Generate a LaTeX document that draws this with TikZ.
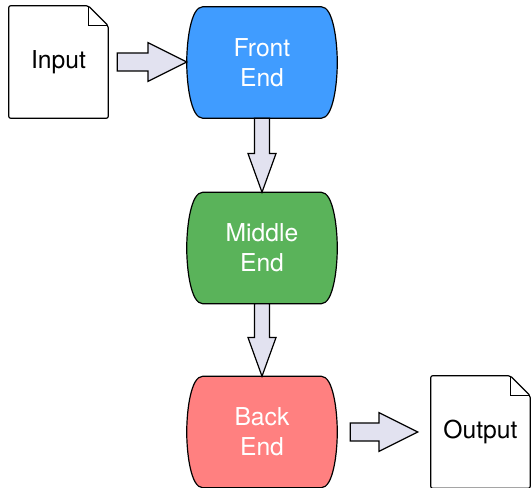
\documentclass[tikz,border=0pt]{standalone}
\usepackage{fontspec}
\setmainfont{TeX Gyre Heros}
\usetikzlibrary{calc,backgrounds}
\begin{document}
\begin{tikzpicture}[x=0.75pt,y=-0.75pt]
\definecolor{frontcolor}{RGB}{64,156,255}
\definecolor{middlecolor}{RGB}{90,179,90}
\definecolor{backcolor}{RGB}{255,128,128}
\definecolor{arrowcolor}{RGB}{226,226,240}
\tikzstyle{stage}=[minimum width=112.5pt,minimum height=83.25pt,inner sep=0pt,align=center,text=white,font=\fontsize{18.5pt}{22.5pt}\selectfont]
\tikzstyle{page}=[minimum width=74.25pt,minimum height=84pt,inner sep=0pt,font=\fontsize{18.5pt}{22.5pt}\selectfont]
\tikzstyle{outline}=[draw=black,line width=0.9pt]
\tikzstyle{fatarrow}=[outline,fill=arrowcolor,line join=miter]
\newcommand{\drum}[2]{%
\filldraw[outline,fill=#2] ([xshift=12pt]#1.north west) -- ([xshift=-12pt]#1.north east)
  .. controls ([xshift=-3pt]#1.north east) and ([yshift=-26pt]#1.north east) .. (#1.east)
  .. controls ([yshift=26pt]#1.south east) and ([xshift=-3pt]#1.south east) .. ([xshift=-12pt]#1.south east)
  -- ([xshift=12pt]#1.south west)
  .. controls ([xshift=3pt]#1.south west) and ([yshift=26pt]#1.south west) .. (#1.west)
  .. controls ([yshift=-26pt]#1.north west) and ([xshift=3pt]#1.north west) .. cycle;}
\newcommand{\docpage}[1]{%
\filldraw[outline,fill=white,rounded corners=1.5pt] (#1.north west) -- ([xshift=-15pt]#1.north east)
  -- ([yshift=-15pt]#1.north east) -- (#1.south east) -- (#1.south west) -- cycle;
\draw[outline] ([xshift=-15pt]#1.north east) -- ([xshift=-15pt,yshift=-15pt]#1.north east) -- ([yshift=-15pt]#1.north east);}
\newcommand{\fatright}[2]{%
\draw[fatarrow] let \p1=(#1), \p2=(#2) in (\x1,\y1+6.75pt) -- (\x2-29pt,\y1+6.75pt) -- (\x2-29pt,\y1+14.5pt)
  -- (\x2,\y1) -- (\x2-29pt,\y1-14.5pt) -- (\x2-29pt,\y1-6.75pt) -- (\x1,\y1-6.75pt) -- cycle;}
\newcommand{\fatdown}[2]{%
\draw[fatarrow] let \p1=(#1), \p2=(#2) in (\x1-5.6pt,\y1) -- (\x1-5.6pt,\y2+29pt) -- (\x1-10.5pt,\y2+29pt)
  -- (\x1,\y2) -- (\x1+10.5pt,\y2+29pt) -- (\x1+5.6pt,\y2+29pt) -- (\x1+5.6pt,\y1) -- cycle;}
\useasboundingbox (0,0) rectangle (531,488);
% stages
\node[stage] (front) at (262,62.5) {Front\\End};
\node[stage] (middle) at (262,248) {Middle\\End};
\node[stage] (back) at (262,432) {Back\\End};
% files
\node[page] (input) at (58.5,62) {Input};
\node[page] (output) at (480.5,432) {Output};
\begin{pgfonlayer}{background}
\drum{front}{frontcolor}
\drum{middle}{middlecolor}
\drum{back}{backcolor}
\docpage{input}
\docpage{output}
\end{pgfonlayer}
% flow
\fatright{[xshift=6.75pt]input.east}{front.west}
\fatdown{front.south}{middle.north}
\fatdown{middle.south}{back.north}
\fatright{[xshift=9.75pt]back.east}{[xshift=-9.75pt]output.west}
\end{tikzpicture}
\end{document}
